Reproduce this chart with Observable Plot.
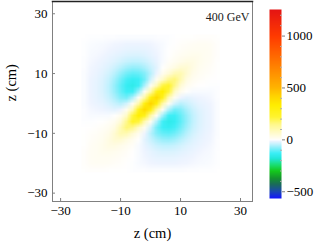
<!DOCTYPE html>
<html><head><meta charset="utf-8">
<script src="https://cdn.jsdelivr.net/npm/d3@7"></script>
<script src="https://cdn.jsdelivr.net/npm/@observablehq/plot@0.6"></script>
<style>
html,body{margin:0;padding:0;background:#fff;}
#wrap{position:relative;width:332px;height:242px;overflow:hidden;}
#wrap svg{position:absolute;top:0;}
#wrap svg, #wrap svg text{font-family:'Liberation Serif','DejaVu Serif',serif !important;font-variant:normal !important;}
</style></head><body><div id="wrap"></div>
<script>
const energyLabel = "400 GeV";
const axisLabel = "z (cm)";
const zTicks = [-30, -10, 10, 30];
const zDomainX = [-32.7, 34];
const zDomainY = [-32.8, 34.1];
const gridZ = [-22,-20,-18,-16,-14,-12,-10,-8,-6,-4,-2,0,2,4,6,8,10,12,14,16,18,20,22];
// rows from z = 22 (top) down to z = -22 (bottom); columns z = -22 .. 22
const fieldRows = [
[0,-1,-1,-1,-2,-2,-3,-3,-3,-3,-3,-3,-2,-2,-1,0,1,2,2,3,3,3,2],
[-1,-3,-4,-5,-6,-8,-9,-11,-11,-11,-10,-9,-6,-4,-1,1,4,6,8,9,9,8,3],
[-1,-4,-5,-6,-9,-11,-13,-15,-16,-16,-15,-12,-8,-4,0,3,7,9,12,12,11,9,3],
[-1,-5,-6,-9,-12,-16,-20,-24,-26,-26,-22,-16,-10,-4,1,7,11,16,20,18,12,9,3],
[-2,-6,-9,-12,-17,-23,-31,-39,-44,-43,-36,-25,-14,-4,6,13,23,33,31,20,12,8,2],
[-2,-8,-11,-16,-23,-35,-49,-63,-71,-69,-56,-38,-18,2,16,35,57,56,33,16,9,6,2],
[-3,-9,-13,-20,-31,-49,-72,-93,-105,-100,-81,-48,-10,17,52,96,100,57,23,11,7,4,1],
[-3,-11,-15,-24,-39,-63,-93,-121,-135,-127,-91,-30,16,72,149,164,96,35,13,7,3,1,0],
[-3,-11,-16,-26,-44,-71,-105,-135,-148,-125,-53,12,93,210,246,149,52,16,6,1,0,-1,-1],
[-3,-11,-16,-26,-43,-69,-100,-127,-125,-63,8,108,265,331,210,72,17,2,-4,-4,-4,-4,-2],
[-3,-10,-15,-22,-36,-56,-81,-91,-53,8,113,298,396,265,93,16,-10,-18,-14,-10,-8,-6,-2],
[-3,-9,-12,-16,-25,-38,-48,-30,12,108,298,420,298,108,12,-30,-48,-38,-25,-16,-12,-9,-3],
[-2,-6,-8,-10,-14,-18,-10,16,93,265,396,298,113,8,-53,-91,-81,-56,-36,-22,-15,-10,-3],
[-2,-4,-4,-4,-4,2,17,72,210,331,265,108,8,-63,-125,-127,-100,-69,-43,-26,-16,-11,-3],
[-1,-1,0,1,6,16,52,149,246,210,93,12,-53,-125,-148,-135,-105,-71,-44,-26,-16,-11,-3],
[0,1,3,7,13,35,96,164,149,72,16,-30,-91,-127,-135,-121,-93,-63,-39,-24,-15,-11,-3],
[1,4,7,11,23,57,100,96,52,17,-10,-48,-81,-100,-105,-93,-72,-49,-31,-20,-13,-9,-3],
[2,6,9,16,33,56,57,35,16,2,-18,-38,-56,-69,-71,-63,-49,-35,-23,-16,-11,-8,-2],
[2,8,12,20,31,33,23,13,6,-4,-14,-25,-36,-43,-44,-39,-31,-23,-17,-12,-9,-6,-2],
[3,9,12,18,20,16,11,7,1,-4,-10,-16,-22,-26,-26,-24,-20,-16,-12,-9,-6,-5,-1],
[3,9,11,12,12,9,7,3,0,-4,-8,-12,-15,-16,-16,-15,-13,-11,-9,-6,-5,-4,-1],
[3,8,9,9,8,6,4,1,-1,-4,-6,-9,-10,-11,-11,-11,-9,-8,-6,-5,-4,-3,-1],
[2,3,3,3,2,2,1,0,-1,-2,-2,-3,-3,-3,-3,-3,-3,-2,-2,-1,-1,-1,0]
];
const colorStops = [-565,-500,-430,-370,-300,-240,-180,-130,-80,-40,-10,0,10,60,150,220,330,420,500,750,1000,1256];
const colorHex = ["#1414ff","#1a46b4","#1a6a5a","#14922e","#14c81c","#1ade74","#22e6d8","#38eef6","#86eefa","#c6f2fe","#eef4ff","#ffffff","#fffdf3","#fffbd0","#fff88a","#fff430","#ffee00","#ffd400","#ffb400","#ff7600","#ff3a00","#e41414"];
const barTicks = [-500, 0, 500, 1000];
const barMinor = [-400,-300,-200,-100,100,200,300,400,600,700,800,900,1100,1200];
const barDomain = [-565, 1256];

const serif = "'Liberation Serif', 'DejaVu Serif', serif";
const fmt = d => d < 0 ? "\u2212" + (-d) : String(d);
const colorScale = {type: "linear", domain: colorStops, range: colorHex, interpolate: "rgb", clamp: true};
const font = {fontFamily: serif, fontSize: "13px", color: "black", background: "transparent", overflow: "visible"};
const n = gridZ.length;
const half = (gridZ[1] - gridZ[0]) / 2;
const axisText = {fontFamily: serif, fontSize: 13, fill: "black", stroke: "#808080", label: null, tickFormat: fmt};

const main = Plot.plot({
  width: 260, height: 242,
  marginLeft: 52, marginRight: 8, marginTop: 1, marginBottom: 41,
  x: {domain: zDomainX},
  y: {domain: zDomainY},
  color: colorScale,
  style: font,
  marks: [
    Plot.raster(fieldRows.flat(), {
      width: n, height: n,
      x1: gridZ[0] - half, x2: gridZ[n - 1] + half,
      y1: gridZ[n - 1] + half, y2: gridZ[0] - half,
      fill: d => d
    }),
    Plot.frame({stroke: "#808080"}),
    Plot.frame({anchor: "top", stroke: "#222", strokeWidth: 1.5}),
    Plot.axisX(zTicks, {anchor: "bottom", tickSize: -3, tickPadding: 7, ...axisText}),
    Plot.axisY(zTicks, {anchor: "left", tickSize: -3, tickPadding: 8, ...axisText}),
    Plot.text([axisLabel], {frameAnchor: "bottom", dy: 36, lineAnchor: "bottom", fontSize: 14.5, fill: "black"}),
    Plot.text([axisLabel], {frameAnchor: "left", dx: -41, rotate: -90, fontSize: 14.5, fill: "black"}),
    Plot.text([energyLabel], {frameAnchor: "top-right", dx: -3, dy: 11, textAnchor: "end", fontSize: 12, fill: "#222"})
  ]
});

const bar = Plot.plot({
  width: 72, height: 242,
  marginLeft: 9, marginRight: 51, marginTop: 9, marginBottom: 44,
  x: {domain: [0, 1], axis: null},
  y: {domain: barDomain, axis: null},
  color: colorScale,
  style: font,
  marks: [
    Plot.raster({fill: (x, y) => y, x1: 0, x2: 1, y1: barDomain[0], y2: barDomain[1]}),
    Plot.axisY(barMinor, {anchor: "right", tickSize: -2, tickFormat: () => "", stroke: "#b0b0b0", label: null}),
    Plot.axisY(barTicks, {anchor: "right", tickSize: 3, tickPadding: 2, ...axisText})
  ]
});

const wrap = document.getElementById("wrap");
main.style.left = "0px";
bar.style.left = "260px";
wrap.appendChild(main);
wrap.appendChild(bar);
</script>
</body></html>
